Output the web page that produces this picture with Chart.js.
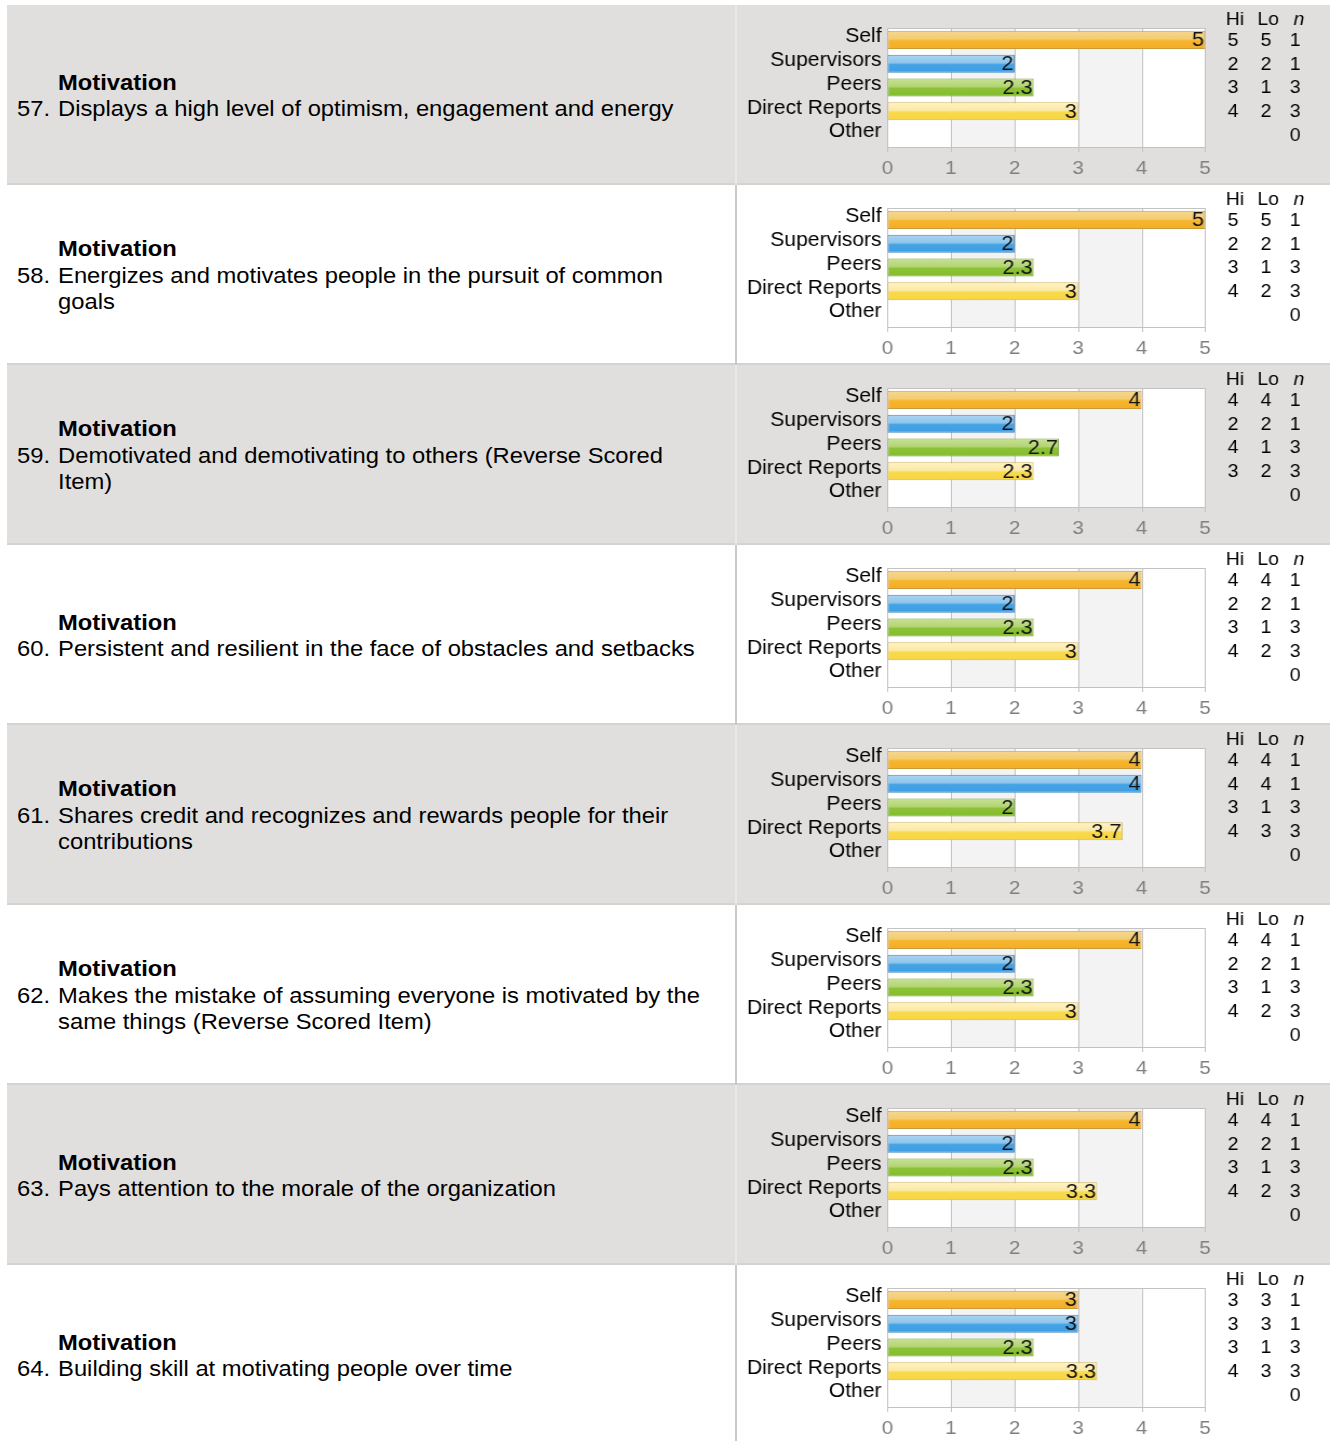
<!DOCTYPE html>
<html>
<head>
<meta charset="utf-8">
<script src="https://cdn.jsdelivr.net/npm/chart.js@4.4.1/dist/chart.umd.min.js"></script>
<style>
  html, body { margin: 0; padding: 0; background: #fff; }
  body { width: 1330px; height: 1441px; position: relative; overflow: hidden; font-family: "Liberation Sans", Arial, sans-serif; }
  .row { position: absolute; left: 7px; width: 1323px; height: 178px; border-bottom: 2px solid #d3d3d3; }
  .row.gray { background: #e0dfdd; }
  .row.white { background: #ffffff; }
  .divider { position: absolute; left: 728px; top: 0; width: 2px; height: 180px; }
  .row.gray .divider { background: #e9e9e8; }
  .row.white .divider { background: #c9c9c9; }
  .left { position: absolute; left: 10px; top: 2px; width: 660px; height: 178px; display: flex; flex-direction: column; justify-content: center; font-size: 22px; line-height: 26.5px; color: #000; transform: scaleX(1.08); transform-origin: 0 0; }
  .left .sect { font-weight: bold; padding-left: 38px; white-space: nowrap; }
  .left .line { display: flex; white-space: nowrap; }
  .left .num { width: 38px; flex: none; }
  .chartBox { position: absolute; left: 730px; top: 0; width: 593px; height: 180px; }
  .chartBox canvas { display: block; }
</style>
</head>
<body>
<div id="root"></div>
<script>
// ---------- data ----------
const categories = ['Self', 'Supervisors', 'Peers', 'Direct Reports', 'Other'];
const sectionName = 'Motivation';
const itemNumbers = [57, 58, 59, 60, 61, 62, 63, 64];
const itemLines = [
  ['Displays a high level of optimism, engagement and energy'],
  ['Energizes and motivates people in the pursuit of common', 'goals'],
  ['Demotivated and demotivating to others (Reverse Scored', 'Item)'],
  ['Persistent and resilient in the face of obstacles and setbacks'],
  ['Shares credit and recognizes and rewards people for their', 'contributions'],
  ['Makes the mistake of assuming everyone is motivated by the', 'same things (Reverse Scored Item)'],
  ['Pays attention to the morale of the organization'],
  ['Building skill at motivating people over time']
];
const selfScores        = [5, 5, 4, 4, 4, 4, 4, 3];
const supervisorScores  = [2, 2, 2, 2, 4, 2, 2, 3];
const peerScores        = [2.3, 2.3, 2.7, 2.3, 2, 2.3, 2.3, 2.3];
const directScores      = [3, 3, 2.3, 3, 3.7, 3, 3.3, 3.3];
const otherScores       = [null, null, null, null, null, null, null, null];

const hiSelf   = [5, 5, 4, 4, 4, 4, 4, 3];
const loSelf   = [5, 5, 4, 4, 4, 4, 4, 3];
const hiSup    = [2, 2, 2, 2, 4, 2, 2, 3];
const loSup    = [2, 2, 2, 2, 4, 2, 2, 3];
const hiPeers  = [3, 3, 4, 3, 3, 3, 3, 3];
const loPeers  = [1, 1, 1, 1, 1, 1, 1, 1];
const hiDirect = [4, 4, 3, 4, 4, 4, 4, 4];
const loDirect = [2, 2, 2, 2, 3, 2, 2, 3];
const nCounts  = [1, 1, 3, 3, 0];
const statHeaders = ['Hi', 'Lo', 'n'];
const xTickValues = [0, 1, 2, 3, 4, 5];

// ---------- styles ----------
const SX = 1.08;                 // horizontal stretch of the picture
const BOX_W = 593, BOX_H = 180;
const CANVAS_W = Math.round(BOX_W / SX);
const FONT = '"Liberation Sans", Arial, sans-serif';
const barStyles = [
  { top: '#f5d890', mid: '#f4cc72', low: '#f7b52c', bot: '#f4ae2a', border: '#c99a3c' },
  { top: '#acd6f3', mid: '#8ec5ec', low: '#45a4e6', bot: '#3f9de2', border: '#3d86bd' },
  { top: '#c9e296', mid: '#b3d473', low: '#8cc236', bot: '#86bb2f', border: '#78a03a' },
  { top: '#fff3c6', mid: '#fbe9a4', low: '#f9da4c', bot: '#f7d545', border: '#cfb35a' },
  { top: '#ffffff', mid: '#ffffff', low: '#ffffff', bot: '#ffffff', border: '#cccccc' }
];
const BAR_PCT = 0.76;

const framePlugin = {
  id: 'frame',
  beforeDatasetsDraw(chart) {
    const { ctx, chartArea: a, scales: { x } } = chart;
    ctx.save();
    ctx.fillStyle = '#ffffff';
    ctx.fillRect(a.left, a.top, a.right - a.left, a.bottom - a.top);
    ctx.fillStyle = '#f3f3f3';
    [[1, 2], [3, 4]].forEach(([s, e]) => {
      const x0 = x.getPixelForValue(s), x1 = x.getPixelForValue(e);
      ctx.fillRect(x0, a.top, x1 - x0, a.bottom - a.top);
    });
    ctx.strokeStyle = '#c2c2c2';
    ctx.lineWidth = 1;
    xTickValues.forEach(v => {
      const px = Math.round(x.getPixelForValue(v)) + 0.5;
      ctx.beginPath(); ctx.moveTo(px, a.top); ctx.lineTo(px, a.bottom + 5); ctx.stroke();
    });
    ctx.beginPath(); ctx.moveTo(a.left, Math.round(a.top) + 0.5); ctx.lineTo(a.right, Math.round(a.top) + 0.5); ctx.stroke();
    ctx.beginPath(); ctx.moveTo(a.left, Math.round(a.bottom) + 0.5); ctx.lineTo(a.right, Math.round(a.bottom) + 0.5); ctx.stroke();
    ctx.restore();
  }
};

const valuePlugin = {
  id: 'values',
  afterDatasetsDraw(chart) {
    const { ctx } = chart;
    const meta = chart.getDatasetMeta(0);
    ctx.save();
    ctx.font = '20px ' + FONT;
    ctx.fillStyle = '#141414';
    ctx.textAlign = 'right';
    ctx.textBaseline = 'middle';
    meta.data.forEach((bar, i) => {
      const v = chart.data.datasets[0].data[i];
      if (v === null || v === undefined) return;
      ctx.fillText(String(v), bar.x - 1, bar.y + 1);
    });
    ctx.restore();
  }
};

const statsPlugin = {
  id: 'stats',
  afterDraw(chart) {
    const { ctx, chartArea: a, scales: { y } } = chart;
    const st = chart.options.plugins.stats;
    const cols = [a.right + 28 / SX, a.right + 61 / SX, a.right + 90 / SX];
    ctx.save();
    ctx.fillStyle = '#000';
    ctx.textAlign = 'center';
    ctx.textBaseline = 'middle';
    statHeaders.forEach((h, c) => {
      ctx.font = (c === 2 ? 'italic ' : '') + '18px ' + FONT;
      ctx.fillText(h, cols[c] + (c === 0 ? 2 : c === 1 ? 2 : 4) / SX, a.top - 8);
    });
    ctx.font = '18px ' + FONT;
    st.rows.forEach((r, k) => {
      const py = y.getPixelForValue(k) + 1;
      r.forEach((val, c) => {
        if (val === null || val === undefined) return;
        ctx.fillText(String(val), cols[c], py);
      });
    });
    ctx.restore();
  }
};

function gradientFor(ctx) {
  const chart = ctx.chart;
  const st = barStyles[ctx.dataIndex] || barStyles[4];
  const area = chart.chartArea;
  if (!area || ctx.type !== 'data') return st.low;
  const y = chart.scales.y;
  const c = y.getPixelForValue(ctx.dataIndex);
  const h = (area.bottom - area.top) / categories.length * BAR_PCT;
  const g = chart.ctx.createLinearGradient(0, c - h / 2, 0, c + h / 2);
  g.addColorStop(0, st.top);
  g.addColorStop(0.45, st.mid);
  g.addColorStop(0.55, st.low);
  g.addColorStop(1, st.bot);
  return g;
}

const root = document.getElementById('root');
itemNumbers.forEach((num, i) => {
  const row = document.createElement('div');
  row.className = 'row ' + (i % 2 === 0 ? 'gray' : 'white');
  row.style.top = (5 + i * 180) + 'px';
  const div = document.createElement('div'); div.className = 'divider'; row.appendChild(div);
  const left = document.createElement('div'); left.className = 'left';
  const sect = document.createElement('div'); sect.className = 'sect'; sect.textContent = sectionName;
  left.appendChild(sect);
  itemLines[i].forEach((t, k) => {
    const ln = document.createElement('div'); ln.className = 'line';
    const n = document.createElement('span'); n.className = 'num'; n.textContent = k === 0 ? num + '.' : '';
    const tx = document.createElement('span'); tx.textContent = t;
    ln.appendChild(n); ln.appendChild(tx); left.appendChild(ln);
  });
  row.appendChild(left);
  const box = document.createElement('div'); box.className = 'chartBox';
  const cv = document.createElement('canvas');
  cv.width = CANVAS_W; cv.height = BOX_H;
  cv.style.width = BOX_W + 'px'; cv.style.height = BOX_H + 'px';
  box.appendChild(cv); row.appendChild(box);
  root.appendChild(row);

  const values = [selfScores[i], supervisorScores[i], peerScores[i], directScores[i], otherScores[i]];
  const statRows = [
    [hiSelf[i], loSelf[i], nCounts[0]],
    [hiSup[i], loSup[i], nCounts[1]],
    [hiPeers[i], loPeers[i], nCounts[2]],
    [hiDirect[i], loDirect[i], nCounts[3]],
    [null, null, nCounts[4]]
  ];

  new Chart(cv, {
    type: 'bar',
    data: {
      labels: categories,
      datasets: [{
        data: values,
        backgroundColor: gradientFor,
        borderColor: categories.map((_, k) => barStyles[k].border),
        borderWidth: 1,
        borderSkipped: false,
        barPercentage: BAR_PCT,
        categoryPercentage: 1
      }]
    },
    options: {
      indexAxis: 'y',
      responsive: false,
      maintainAspectRatio: false,
      animation: false,
      devicePixelRatio: 1,
      events: [],
      layout: { padding: { left: 0, right: CANVAS_W - 468 / SX, top: 23, bottom: 0 } },
      plugins: {
        legend: { display: false },
        tooltip: { enabled: false },
        stats: { rows: statRows }
      },
      scales: {
        x: {
          min: 0, max: 5,
          afterBuildTicks(scale) { scale.ticks = xTickValues.map(v => ({ value: v })); },
          afterFit(scale) { scale.height = 38; },
          grid: { display: false, drawTicks: false },
          border: { display: false },
          ticks: { color: '#7f7f7f', font: { size: 19, family: FONT }, padding: 10, maxRotation: 0 }
        },
        y: {
          afterFit(scale) { scale.width = 150.5 / SX; },
          grid: { display: false, drawTicks: false },
          border: { display: false },
          ticks: { color: '#000', font: { size: 19.5, family: FONT }, padding: 6 / SX, labelOffset: -3, autoSkip: false }
        }
      }
    },
    plugins: [framePlugin, valuePlugin, statsPlugin]
  });
});
</script>
</body>
</html>
